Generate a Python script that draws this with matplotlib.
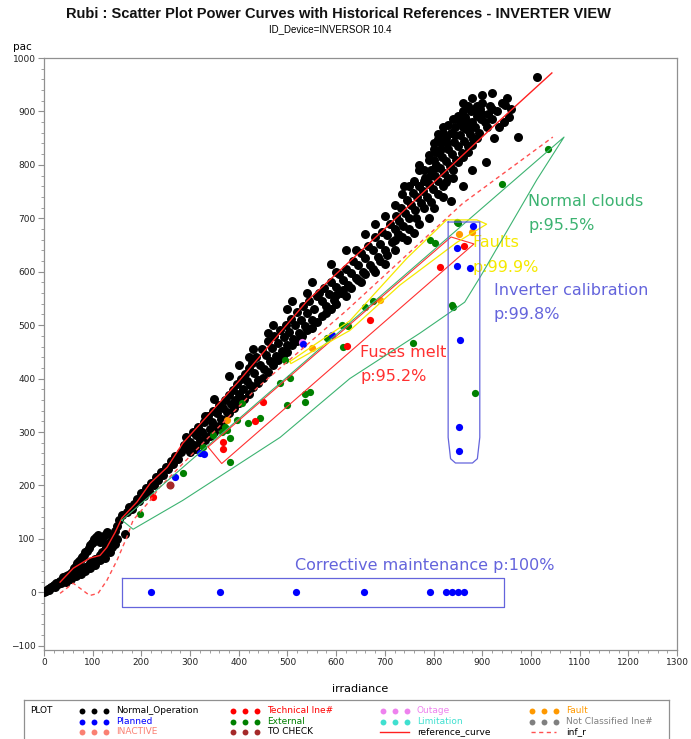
import numpy as np
import matplotlib
matplotlib.use('Agg')
import matplotlib.pyplot as plt
from matplotlib.ticker import MultipleLocator

# ---- data ----
normal_pts = [
    (0, 0), (3, 2), (5, 3), (8, 6), (10, 5), (12, 8), (15, 10), (18, 12), (20, 14), (22, 10),
    (25, 18), (28, 15), (30, 20), (33, 22), (35, 18), (38, 25), (40, 28), (42, 22), (45, 30),
    (48, 26), (50, 33), (52, 28), (55, 36), (58, 30), (60, 40),
    (62, 45), (65, 50), (68, 55), (72, 58), (75, 62), (78, 66), (82, 70), (85, 75), (88, 78),
    (92, 82), (95, 88), (98, 92), (100, 95), (103, 100), (106, 103), (110, 108), (112, 100), (115, 95),
    (65, 35), (70, 38), (75, 42), (80, 45), (85, 48), (90, 50), (95, 55), (100, 58), (105, 62),
    (110, 65), (115, 70), (120, 75), (125, 80), (128, 85), (132, 90), (139, 84),
    (45, 20), (55, 25), (65, 30), (75, 35), (85, 40), (95, 45), (105, 52), (115, 60), (125, 65),
    (135, 75), (145, 90), (150, 100), (120, 100), (125, 108), (130, 112),
    (135, 95), (140, 105), (145, 115), (150, 125), (155, 135), (160, 144), (166, 109), (170, 150),
    (175, 160), (180, 155), (185, 165), (190, 175), (195, 170), (200, 185), (205, 180), (210, 195),
    (215, 190), (220, 205), (225, 200), (230, 215), (235, 210), (240, 225), (245, 220), (250, 235),
    (255, 230), (260, 245), (265, 240), (270, 255), (275, 250),
    (282, 262), (288, 275), (292, 290), (296, 268), (300, 282), (305, 300), (308, 276), (312, 295),
    (316, 310), (320, 285), (325, 300), (328, 318), (332, 290),
    (336, 330), (340, 305), (344, 318), (348, 340), (352, 312), (356, 335), (360, 350), (364, 325),
    (368, 345), (372, 360), (376, 338), (380, 370),
    (384, 352), (388, 378), (392, 360), (396, 390), (400, 372), (404, 400), (408, 380), (412, 408),
    (416, 395), (420, 420), (424, 388), (428, 430),
    (432, 410), (436, 440), (440, 398), (444, 425), (448, 455), (452, 418), (456, 445), (460, 470),
    (464, 432), (468, 458), (472, 480), (476, 442), (480, 466),
    (484, 490), (488, 452), (492, 478), (496, 500), (500, 462), (504, 488), (508, 512), (512, 475),
    (516, 500), (520, 525), (524, 486), (528, 510), (532, 535), (536, 498), (540, 522),
    (545, 545), (550, 510), (555, 530), (560, 555), (565, 560), (570, 545), (575, 570), (580, 535),
    (585, 558), (590, 580), (595, 548), (600, 572),
    (605, 595), (610, 560), (615, 585), (620, 605), (625, 575), (630, 598), (635, 620), (640, 588),
    (645, 612), (650, 635), (655, 600), (660, 625),
    (665, 648), (670, 612), (675, 640), (680, 665), (685, 628), (690, 652), (695, 675), (700, 640),
    (705, 668), (710, 690), (715, 655), (720, 680),
    (722, 705), (726, 670), (730, 695), (734, 720), (738, 685), (742, 710), (746, 735), (750, 700),
    (754, 725), (758, 748), (762, 715), (766, 740), (770, 760), (774, 728), (778, 752), (782, 775),
    (786, 740), (790, 765), (794, 790), (798, 755),
    (802, 780), (806, 800), (810, 770), (814, 795), (818, 815), (822, 785), (826, 808), (830, 830),
    (834, 798), (838, 820), (842, 842), (846, 810), (850, 835), (854, 855), (858, 822), (862, 845),
    (866, 868), (870, 835), (874, 858), (878, 880), (882, 848), (886, 870), (890, 892), (894, 860),
    (898, 885),
    (805, 825), (815, 840), (825, 850), (835, 860), (845, 870), (855, 880), (865, 890), (840, 790),
    (850, 805), (860, 815), (870, 825), (880, 838), (890, 850), (820, 760), (830, 775), (800, 810),
    (812, 822), (876, 900), (884, 905), (896, 905),
    (650, 580), (700, 615), (720, 640), (745, 660), (770, 690), (790, 700), (800, 720), (820, 740),
    (760, 672), (680, 600), (620, 555), (600, 540), (836, 732), (860, 760), (880, 790), (908, 805),
    (900, 895), (910, 870), (915, 910), (920, 885), (930, 900), (940, 915), (947, 912), (951, 925),
    (960, 905), (973, 852), (1012, 964), (925, 850), (935, 870), (945, 880), (955, 890),
    (300, 262), (310, 268), (320, 278), (330, 285), (340, 292), (350, 300), (360, 312), (370, 322),
    (380, 335), (390, 345), (400, 355), (410, 362), (420, 372), (430, 385), (440, 392), (450, 402),
    (460, 412), (470, 425), (480, 435), (490, 442), (500, 450), (510, 462), (520, 470), (530, 480),
    (540, 490), (550, 495), (560, 505), (570, 518), (580, 522), (590, 530), (600, 556), (615, 565),
    (630, 570), (645, 585), (660, 595), (675, 605), (690, 620), (705, 632), (720, 660), (735, 665),
    (750, 680), (765, 700), (780, 720), (795, 730), (810, 745), (825, 768), (840, 775),
    (330, 330), (350, 362), (420, 440), (460, 485), (500, 530), (540, 560), (600, 600), (640, 640),
    (680, 690), (720, 725), (760, 770), (780, 790), (800, 840), (820, 860), (840, 885), (860, 900),
    (870, 910), (850, 892), (830, 875), (810, 858), (790, 818), (770, 800), (750, 760), (735, 745),
    (905, 880), (912, 895), (920, 905), (900, 915), (890, 910), (880, 870), (870, 880), (860, 870),
    (845, 855), (828, 840), (816, 830), (804, 795), (792, 780), (780, 770),
    (380, 405), (400, 425), (430, 455), (470, 500), (510, 545), (550, 580), (590, 615), (620, 640),
    (660, 670), (700, 705), (740, 760), (770, 790), (860, 915), (880, 925), (900, 930), (920, 935),
    (790, 810), (800, 830), (810, 848), (820, 870),
]
normal_x = [p[0] for p in normal_pts]
normal_y = [p[1] for p in normal_pts]

planned_x = [269, 320, 329, 532, 591, 881, 848, 848, 875, 854, 852, 852,
             220, 361, 517, 657, 793, 825, 838, 850, 862]
planned_y = [215, 260, 258, 464, 481, 685, 644, 610, 607, 472, 309, 264,
             0, 0, 0, 0, 0, 0, 0, 0, 0]

external_x = [197, 285, 326, 347, 365, 372, 376, 382, 382, 396, 407, 419, 444, 485, 499, 505,
              495, 536, 536, 546, 581, 612, 614, 624, 659, 676, 758, 793, 803, 850, 840, 848,
              838, 885, 940, 1035]
external_y = [146, 223, 272, 294, 300, 309, 303, 288, 243, 322, 354, 316, 326, 391, 350, 401,
              434, 356, 372, 375, 476, 500, 459, 498, 534, 545, 466, 659, 653, 691, 534, 693,
              537, 373, 764, 830]

tech_x = [224, 368, 368, 433, 450, 622, 669, 813, 862]
tech_y = [178, 281, 268, 320, 356, 461, 509, 609, 648]

fault_x = [376, 550, 690, 852, 879]
fault_y = [322, 457, 547, 670, 674]

outage_x = [530]
outage_y = [468]

tocheck_x = [259]
tocheck_y = [200]

ref_curve_x = [33, 60, 94, 115, 129, 146, 160, 191, 218, 253, 285, 400, 540, 690, 827, 930, 1043]
ref_curve_y = [19, 45, 64, 69, 84, 112, 139, 169, 204, 234, 279, 395, 545, 672, 790, 878, 972]

inf_r_x = [33, 60, 94, 111, 129, 150, 170, 183, 218, 238, 437, 622, 860, 1045]
inf_r_y = [-2, 17, -6, -2, 22, 60, 103, 135, 172, 197, 382, 528, 728, 852]

# outlines drawn around the failure families
clouds_x = [160, 1068, 1012, 897, 864, 834, 772, 628, 485, 285, 183, 160]
clouds_y = [135, 852, 772, 592, 543, 524, 485, 400, 290, 172, 118, 135]

fuses_x = [337, 836, 883, 365, 337]
fuses_y = [272, 665, 652, 241, 272]

faults_x = [505, 628, 745, 827, 889, 909, 848, 731, 628, 507, 505]
faults_y = [432, 508, 625, 697, 697, 689, 655, 575, 490, 428, 432]

calib_x = [830, 895, 895, 890, 880, 845, 835, 830, 830]
calib_y = [693, 693, 290, 250, 242, 242, 250, 290, 693]

corrective_x = [160, 945, 945, 160, 160]
corrective_y = [26, 26, -28, -28, 26]

C_NORMAL = 'black'
C_TECH = '#ff0000'
C_OUTAGE = '#ee82ee'
C_FAULT = '#ff9900'
C_PLANNED = '#0000ff'
C_EXTERNAL = '#008000'
C_LIMIT = '#40e0d0'
C_NOTCLS = '#808080'
C_INACTIVE = '#fa8072'
C_TOCHECK = '#a52a2a'

C_CLOUDS = '#3cb371'
C_CALIB = '#6464dc'
C_FUSES = '#ff3030'
C_FAULTS = '#f5e900'

plt.rcParams['font.family'] = ['DejaVu Sans']

fig = plt.figure(figsize=(6.91, 7.39), dpi=100)
ax = fig.add_axes([44 / 691, 1 - 650 / 739, 633 / 691, (650 - 58) / 739])

ax.scatter(normal_x, normal_y, s=42, c=C_NORMAL, linewidths=0, zorder=3)
ax.scatter(external_x, external_y, s=27, c=C_EXTERNAL, linewidths=0, zorder=4)
ax.scatter(tech_x, tech_y, s=27, c=C_TECH, linewidths=0, zorder=4)
ax.scatter(fault_x, fault_y, s=27, c=C_FAULT, linewidths=0, zorder=4)
ax.scatter(outage_x, outage_y, s=27, c=C_OUTAGE, linewidths=0, zorder=4)
ax.scatter(tocheck_x, tocheck_y, s=34, c=C_TOCHECK, linewidths=0, zorder=4)
ax.scatter(planned_x, planned_y, s=27, c=C_PLANNED, linewidths=0, zorder=5)

ax.plot(ref_curve_x, ref_curve_y, color='#ff2020', lw=1.0, zorder=6)
ax.plot(inf_r_x, inf_r_y, color='#ff5050', lw=1.0, ls=(0, (3, 2.5)), zorder=6)

ax.plot(clouds_x, clouds_y, color=C_CLOUDS, lw=0.8, zorder=6)
ax.plot(fuses_x, fuses_y, color=C_FUSES, lw=0.8, zorder=6)
ax.plot(faults_x, faults_y, color=C_FAULTS, lw=0.9, zorder=6)
ax.plot(calib_x, calib_y, color=C_CALIB, lw=0.9, zorder=6)
ax.plot(corrective_x, corrective_y, color=C_CALIB, lw=0.9, zorder=6)

tfs = 11.5
ax.text(994, 732, 'Normal clouds', color=C_CLOUDS, fontsize=tfs, va='center')
ax.text(994, 687, 'p:95.5%', color=C_CLOUDS, fontsize=tfs, va='center')
ax.text(879, 654, 'Faults', color=C_FAULTS, fontsize=tfs, va='center')
ax.text(879, 607, 'p:99.9%', color=C_FAULTS, fontsize=tfs, va='center')
ax.text(924, 564, 'Inverter calibration', color=C_CALIB, fontsize=tfs, va='center')
ax.text(924, 519, 'p:99.8%', color=C_CALIB, fontsize=tfs, va='center')
ax.text(649, 449, 'Fuses melt', color=C_FUSES, fontsize=tfs, va='center')
ax.text(649, 404, 'p:95.2%', color=C_FUSES, fontsize=tfs, va='center')
ax.text(515, 51, 'Corrective maintenance p:100%', color=C_CALIB, fontsize=tfs, va='center')

ax.set_xlim(0, 1300)
ax.set_ylim(-108, 1000)
ax.xaxis.set_major_locator(MultipleLocator(100))
ax.xaxis.set_minor_locator(MultipleLocator(20))
ax.yaxis.set_major_locator(MultipleLocator(100))
ax.yaxis.set_minor_locator(MultipleLocator(20))
ax.tick_params(which='major', direction='out', length=4, width=0.8, color='#909090',
               labelsize=6.5, labelcolor='#222222', pad=2)
ax.tick_params(which='minor', direction='out', length=2, width=0.6, color='#909090')
for sp in ax.spines.values():
    sp.set_color('#909090')
    sp.set_linewidth(0.9)

ax.set_xlabel('irradiance', fontsize=8, labelpad=12)
fig.text(22 / 691, 1 - 47 / 739, 'pac', fontsize=7.5, ha='center', va='center')

fig.text(338 / 691, 1 - 14 / 739,
         'Rubi : Scatter Plot Power Curves with Historical References - INVERTER VIEW',
         fontsize=10.5, fontweight='bold', family='Liberation Sans', ha='center', va='center',
         color='#111111')
fig.text(330 / 691, 1 - 29 / 739, 'ID_Device=INVERSOR 10.4', fontsize=7,
         family='Liberation Sans', ha='center', va='center')

# ---- legend (drawn in pixel coordinates of the figure) ----
lax = fig.add_axes([24 / 691, -6 / 739, 645 / 691, 45 / 739])
lax.set_xlim(24, 669)
lax.set_ylim(745, 700)
lax.set_xticks([])
lax.set_yticks([])
for sp in lax.spines.values():
    sp.set_color('#909090')
    sp.set_linewidth(0.9)

lax.text(30, 711, 'PLOT', fontsize=6.5, va='center')
leg_items = [
    ('Normal_Operation', C_NORMAL, 'black', 82, 711),
    ('Planned', C_PLANNED, C_PLANNED, 82, 722),
    ('INACTIVE', C_INACTIVE, C_INACTIVE, 82, 732),
    ('Technical Ine#', C_TECH, C_TECH, 233, 711),
    ('External', C_EXTERNAL, C_EXTERNAL, 233, 722),
    ('TO CHECK', C_TOCHECK, 'black', 233, 732),
    ('Outage', C_OUTAGE, C_OUTAGE, 383, 711),
    ('Limitation', C_LIMIT, C_LIMIT, 383, 722),
    ('Fault', C_FAULT, C_FAULT, 532, 711),
    ('Not Classified Ine#', C_NOTCLS, C_NOTCLS, 532, 722),
]
for label, mc, tc, x0, y0 in leg_items:
    lax.scatter([x0, x0 + 12, x0 + 24], [y0, y0, y0], s=18, c=mc, linewidths=0)
    lax.text(x0 + 34, y0, label, fontsize=6.5, color=tc, va='center')

lax.plot([380, 409], [732, 732], color='#ff2020', lw=1.0)
lax.text(417, 732, 'reference_curve', fontsize=6.5, va='center')
lax.plot([531, 556], [732, 732], color='#ff5050', lw=1.0, ls=(0, (3, 2.5)))
lax.text(566, 732, 'inf_r', fontsize=6.5, va='center')

plt.savefig('out.png', dpi=100)
plt.close()
